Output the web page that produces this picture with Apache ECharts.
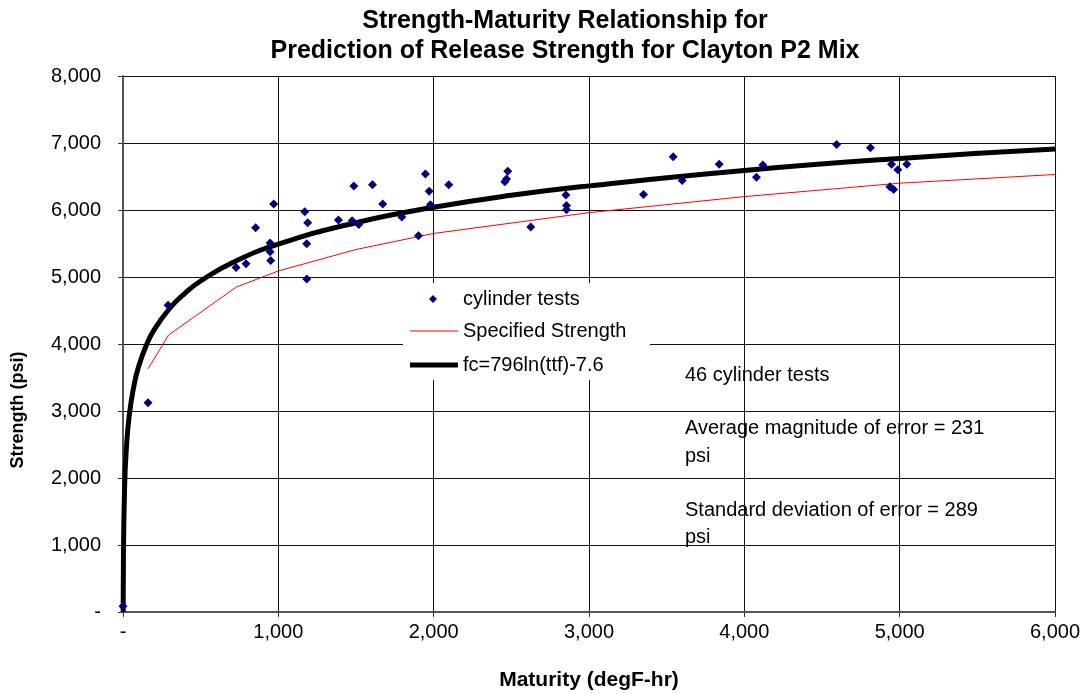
<!DOCTYPE html>
<html lang="en">
<head>
	<meta charset="UTF-8">
	<title>Strength-Maturity Relationship</title>
	<script src="https://cdn.jsdelivr.net/npm/echarts@6/dist/echarts.min.js"></script>
	<style>
		html, body { margin: 0; padding: 0; background: #fff; }
		#chartBox { width: 1083px; height: 694px; }
	</style>
</head>
<body>
<div id="chartBox"></div>
<script>
    // cylinder tests [maturity degF-hr, strength psi]
    var cylinderTests = [
        [0, 84], [161, 3124], [290, 4577], [728, 5143], [792, 5199], [854, 5736],
        [947, 5507], [947, 5378], [951, 5248], [970, 6090], [1170, 5975], [1183, 5497],
        [1183, 4970], [1189, 5810], [1387, 5851], [1475, 5840], [1486, 6358], [1518, 5785],
        [1606, 6378], [1672, 6090], [1795, 5895], [1902, 5616], [1947, 6537], [1971, 6278],
        [1979, 6079], [2097, 6378], [2458, 6422], [2469, 6462], [2477, 6577], [2625, 5746],
        [2851, 6224], [2855, 6069], [2855, 6004], [3351, 6233], [3542, 6796], [3600, 6442],
        [3838, 6681], [4078, 6487], [4119, 6672], [4594, 6979], [4812, 6930], [4937, 6348],
        [4948, 6681], [4961, 6307], [4988, 6601], [5046, 6681]
    ];
    // specified strength line
    var specifiedX = [161, 294, 730, 1000, 1500, 2000, 3000, 4000, 5000, 6000];
    var specifiedY = [3630, 4135, 4850, 5090, 5410, 5650, 5960, 6200, 6400, 6530];
    // fitted curve fc=796ln(ttf)-7.6
    var fitX = [1, 3, 10, 20, 40, 70, 100, 150, 200, 300, 400, 500, 700, 1000, 1500, 2000, 2500, 3000, 4000, 5000, 6000];
    var fitY = [0, 870, 1830, 2380, 2930, 3370, 3660, 3980, 4210, 4530, 4760, 4940, 5210, 5490, 5810, 6040, 6220, 6360, 6590, 6770, 6910];

    var notes = ['46 cylinder tests', 'Average magnitude of error = 231', 'psi', 'Standard deviation of error = 289', 'psi'];
    var noteMids = [375, 428, 456, 510, 537];

    function pair(xs, ys) {
        var out = [];
        for (var i = 0; i < xs.length; i++) out.push([xs[i], ys[i]]);
        return out;
    }
    function fmt(v) {
        if (v === 0) return '-';
        return v.toString().replace(/\B(?=(\d{3})+(?!\d))/g, ',');
    }

    var font = 'Liberation Sans, Arial, sans-serif';
    var myChart = echarts.init(document.getElementById('chartBox'));

    // white patch behind the legend, covers the grid lines
    var graphics = [{
        type: 'rect', z: 1, shape: { x: 403, y: 283, width: 247, height: 97 },
        style: { fill: '#fff' }
    }, {
        type: 'text', x: 18, y: 410, rotation: Math.PI / 2, z: 10,
        style: { text: 'Strength (psi)', fontSize: 18, fontWeight: 'bold', fontFamily: font, fill: '#000', align: 'center', verticalAlign: 'middle' }
    }];
    for (var i = 0; i < notes.length; i++) {
        graphics.push({
            type: 'text', x: 685, y: noteMids[i], z: 10,
            style: { text: notes[i], fontSize: 20, fontFamily: font, fill: '#000', verticalAlign: 'middle' }
        });
    }

    var legText = { fontSize: 20, fontFamily: font, color: '#000' };

    var option = {
        animation: false,
        backgroundColor: '#fff',
        title: {
            text: 'Strength-Maturity Relationship for\nPrediction of Release Strength for Clayton P2 Mix',
            left: 560, textAlign: 'center', top: 1,
            textStyle: { fontSize: 25, fontWeight: 'bold', fontFamily: font, color: '#000', lineHeight: 30 }
        },
        grid: { left: 123, right: 28, top: 76, bottom: 82, outerBoundsMode: 'none', containLabel: false },
        legend: [{
            left: 429, top: 289, padding: 0, itemWidth: 8, itemHeight: 8, icon: 'diamond',
            itemStyle: { opacity: 1 },
            textStyle: { fontSize: 20, fontFamily: font, color: '#000', padding: [0, 0, 0, 21] },
            data: ['cylinder tests']
        }, {
            left: 410, top: 321, padding: 0, itemWidth: 48, itemHeight: 1, icon: 'rect',
            textStyle: legText, data: ['Specified Strength']
        }, {
            left: 410, top: 355, padding: 0, itemWidth: 48, itemHeight: 5, icon: 'rect',
            textStyle: legText, data: ['fc=796ln(ttf)-7.6']
        }],
        xAxis: {
            type: 'value', min: 0, max: 6000, interval: 1000,
            name: 'Maturity (degF-hr)', nameLocation: 'middle', nameGap: 58,
            nameTextStyle: { fontSize: 21, fontWeight: 'bold', fontFamily: font, color: '#000' },
            axisLine: { onZero: false, lineStyle: { color: '#555', width: 2 } },
            axisTick: { show: true, length: 5, inside: false, lineStyle: { color: '#333' } },
            axisLabel: { fontSize: 20, fontFamily: font, color: '#000', margin: 10, formatter: fmt },
            splitLine: { show: true, lineStyle: { color: '#111', width: 1 } }
        },
        yAxis: {
            type: 'value', min: 0, max: 8000, interval: 1000,
            axisLine: { show: true, lineStyle: { color: '#555', width: 2 } },
            axisTick: { show: true, length: 5, lineStyle: { color: '#333' } },
            axisLabel: { fontSize: 20, fontFamily: font, color: '#000', margin: 22, formatter: fmt },
            splitLine: { show: true, lineStyle: { color: '#111', width: 1 } }
        },
        series: [
            {
                name: 'cylinder tests', type: 'scatter', symbol: 'diamond', symbolSize: 9,
                itemStyle: { color: '#000080', opacity: 1 }, z: 5,
                data: cylinderTests
            },
            {
                name: 'Specified Strength', type: 'line', showSymbol: false, symbol: 'none',
                lineStyle: { color: '#ff0000', width: 1 }, itemStyle: { color: '#ff0000' }, z: 3,
                data: pair(specifiedX, specifiedY)
            },
            {
                name: 'fc=796ln(ttf)-7.6', type: 'line', showSymbol: false, symbol: 'none', smooth: true,
                lineStyle: { color: '#000', width: 5 }, itemStyle: { color: '#000' }, z: 4,
                data: pair(fitX, fitY)
            }
        ],
        graphic: graphics
    };
    myChart.setOption(option);
</script>
</body>
</html>
